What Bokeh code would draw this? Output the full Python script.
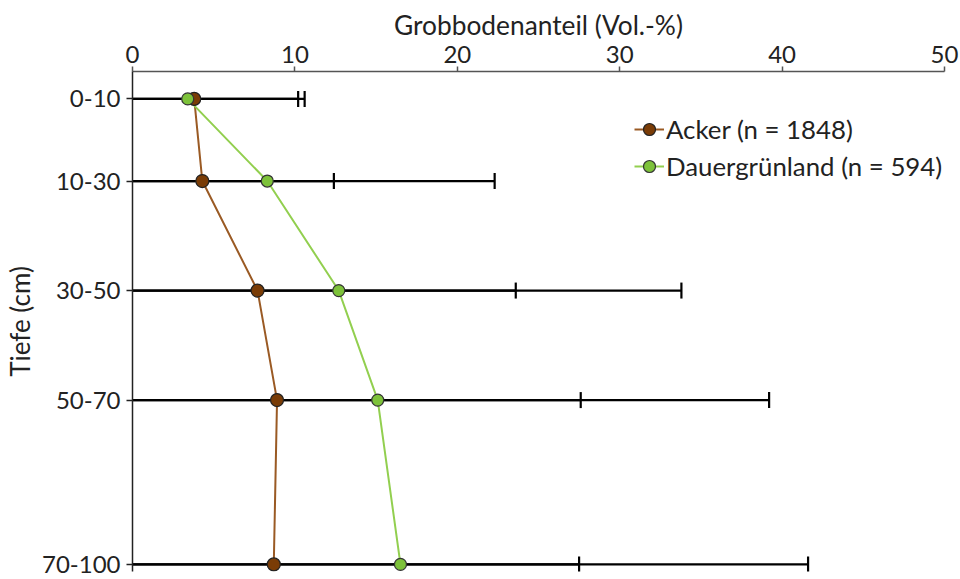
import numpy as np
from bokeh.plotting import figure
from bokeh.models import Range1d, FixedTicker, Legend, LegendItem
from bokeh.embed import file_html
from bokeh.resources import INLINE

# ---- data ----
depth_labels = ["0-10", "10-30", "30-50", "50-70", "70-100"]
depth_pos = [5, 20, 40, 60, 90]
acker_mean = [3.8, 4.3, 7.7, 8.9, 8.7]
acker_sd = [6.8, 8.1, 15.9, 18.7, 18.8]
gruen_mean = [3.4, 8.3, 12.7, 15.1, 16.5]
gruen_sd = [6.8, 14.0, 21.1, 24.1, 25.1]
x_ticks = [0, 10, 20, 30, 40, 50]

FONT = "Lato"
FS = "24px"

p = figure(width=960, height=579, output_backend="svg", toolbar_location=None,
           x_range=Range1d(0, 50), y_range=Range1d(91.3, 0),
           x_axis_location="above", min_border_top=71, min_border_left=131,
           min_border_right=16, min_border_bottom=8)
p.outline_line_color = None
p.grid.visible = False
p.background_fill_color = "white"

# axes
xa = p.xaxis[0]
xa.ticker = FixedTicker(ticks=x_ticks)
xa.axis_label = "Grobbodenanteil (Vol.-%)"
xa.axis_label_text_font = FONT
xa.axis_label_text_font_size = "26.3px"
xa.axis_label_text_font_style = "normal"
xa.axis_label_text_color = "#222222"
xa.axis_label_standoff = 2
xa.major_label_text_font = FONT
xa.major_label_text_font_size = FS
xa.major_label_text_color = "#222222"
xa.major_label_standoff = 4
xa.major_tick_out = 5
xa.major_tick_in = 0
xa.minor_tick_out = 0
xa.minor_tick_in = 0
xa.axis_line_color = "#555555"
xa.axis_line_width = 1.5
xa.major_tick_line_color = "#555555"
xa.major_tick_line_width = 1.5

ya = p.yaxis[0]
ya.ticker = FixedTicker(ticks=depth_pos)
ya.major_label_overrides = {d: l for d, l in zip(depth_pos, depth_labels)}
ya.axis_label = "Tiefe (cm)"
ya.axis_label_text_font = FONT
ya.axis_label_text_font_size = "26px"
ya.axis_label_text_font_style = "normal"
ya.axis_label_text_color = "#222222"
ya.axis_label_standoff = 3
ya.major_label_text_font = FONT
ya.major_label_text_font_size = FS
ya.major_label_text_color = "#222222"
ya.major_label_standoff = 6
ya.major_tick_out = 6
ya.major_tick_in = 0
ya.minor_tick_out = 0
ya.minor_tick_in = 0
ya.axis_line_color = "#222222"
ya.axis_line_width = 1.5
ya.major_tick_line_color = "#222222"
ya.major_tick_line_width = 1.5

# error bars (mean +/- sd), black
for m, s in ((acker_mean, acker_sd), (gruen_mean, gruen_sd)):
    lo = [a - b for a, b in zip(m, s)]
    hi = [a + b for a, b in zip(m, s)]
    p.segment(x0=lo, y0=depth_pos, x1=hi, y1=depth_pos, line_color="black", line_width=2.2)
    p.scatter(x=hi, y=depth_pos, marker="dash", angle=np.pi / 2, size=16,
              line_color="black", line_width=2.2)
    p.scatter(x=lo, y=depth_pos, marker="dash", angle=np.pi / 2, size=16,
              line_color="black", line_width=2.2)

# series
ACK_LINE = "#9A5A24"
ACK_FILL = "#7A3C06"
GR_LINE = "#92CF4F"
GR_FILL = "#7DC23A"

l1 = p.line(acker_mean, depth_pos, line_color=ACK_LINE, line_width=2)
l2 = p.line(gruen_mean, depth_pos, line_color=GR_LINE, line_width=2)
s1 = p.scatter(acker_mean, depth_pos, size=13, fill_color=ACK_FILL, line_color="#222222", line_width=1.2)
s2 = p.scatter(gruen_mean, depth_pos, size=12, fill_color=GR_FILL, line_color="#333333", line_width=1.2)

legend = Legend(items=[LegendItem(label="Acker (n = 1848)", renderers=[l1, s1]),
                       LegendItem(label="Dauergrünland (n = 594)", renderers=[l2, s2])],
                location=(502, 390))
legend.label_text_font = FONT
legend.label_text_font_size = "25.8px"
legend.label_text_color = "#222222"
legend.glyph_width = 30
legend.glyph_height = 30
legend.label_height = 30
legend.spacing = 7
legend.padding = 0
legend.margin = 0
legend.label_standoff = 2
legend.border_line_color = None
legend.background_fill_alpha = 0
p.add_layout(legend)

open("out.html", "w").write(file_html(p, INLINE))
